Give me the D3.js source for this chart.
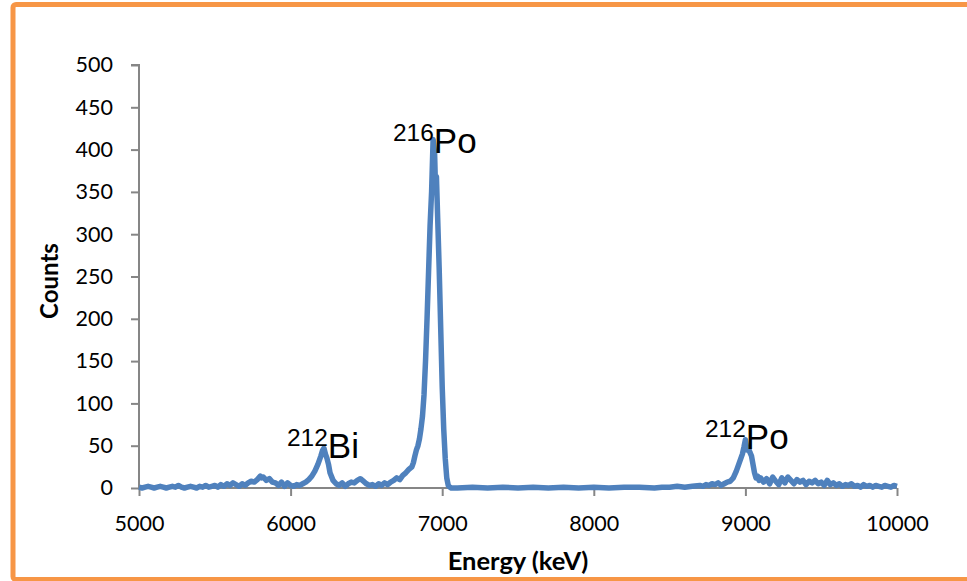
<!DOCTYPE html>
<html>
<head>
<meta charset="utf-8">
<script src="https://cdn.jsdelivr.net/npm/d3@7"></script>
<style>
  body { margin: 0; background: #fff; }
  svg { display: block; }
</style>
</head>
<body>
<svg id="spectrum"></svg>
<script>
// energy (keV) and counts
var energy = [5000,5020,5040,5060,5080,5100,5120,5140,5160,5180,5200,5220,5240,5260,5280,5300,5320,5340,5360,5380,
  5400,5420,5440,5460,5480,5500,5520,5540,5560,5580,5600,5620,5640,5660,5680,5700,5720,5740,5760,5780,
  5800,5810,5820,5840,5860,5880,5900,5920,5940,5960,5980,6000,6020,6040,6060,6080,6100,6120,6140,6160,
  6180,6200,6210,6220,6230,6240,6250,6260,6280,6300,6320,6340,6360,6380,6400,6420,6440,6460,6480,6500,
  6520,6540,6560,6580,6600,6620,6640,6660,6680,6700,6720,6740,6760,6780,6800,6810,6820,6830,6840,6850,
  6860,6870,6880,6890,6900,6910,6920,6930,6940,6950,6955,6962,6970,6980,6990,7000,7010,7020,7030,7040,
  7050,7060,7100,7200,7300,7400,7500,7600,7700,7800,7900,8000,8100,8200,8300,8400,8450,8500,8550,8600,
  8650,8700,8720,8740,8760,8780,8800,8820,8840,8860,8880,8900,8920,8940,8960,8980,8990,9000,9010,9020,
  9030,9040,9050,9060,9070,9080,9090,9100,9120,9140,9160,9180,9200,9220,9240,9260,9280,9300,9320,9340,
  9360,9380,9400,9420,9440,9460,9480,9500,9520,9540,9560,9580,9600,9620,9640,9660,9680,9700,9720,9740,
  9760,9780,9800,9820,9840,9860,9880,9900,9920,9940,9960,9980,10000];
var counts = [1,0,1,2,1,0,1,2,1,0,
  1,2,1,3,1,0,1,2,1,0,
  2,1,3,1,2,3,1,4,2,5,
  3,6,4,2,5,3,6,8,7,10,
  14,12,13,9,11,7,6,3,7,2,
  6,3,2,4,3,5,7,10,14,20,
  28,38,44,47,40,35,28,18,9,5,
  3,6,2,5,7,6,9,11,8,5,
  3,4,2,5,3,6,4,7,9,12,
  10,15,18,22,25,30,38,45,50,58,
  70,85,110,150,200,255,310,350,412,395,
  360,368,320,260,190,120,70,35,12,3,
  1,0,0,1,0,1,0,1,0,1,
  0,1,0,1,1,0,1,1,2,1,
  2,3,2,4,3,5,4,6,3,5,
  7,8,12,20,30,40,48,57,45,47,
  42,38,28,18,12,14,9,12,7,11,
  5,13,8,4,12,6,13,9,5,10,
  7,9,4,8,6,9,5,7,3,9,
  4,6,3,5,2,4,3,5,2,3,
  1,4,2,3,1,3,2,1,3,2,
  1,3,2];

var xTicks = [5000, 6000, 7000, 8000, 9000, 10000];
var yTicks = [0, 50, 100, 150, 200, 250, 300, 350, 400, 450, 500];

// peak labels: isotope mass, element, anchor energy / counts
var peakMass = ["212", "216", "212"];
var peakElem = ["Bi", "Po", "Po"];
var peakE = [5976, 6675, 8733];
var peakC = [35, 396, 46];

var W = 967, H = 581;
var svg = d3.select("svg#spectrum").attr("width", W).attr("height", H);

// orange frame (right side runs off the page)
svg.append("rect")
   .attr("x", 13).attr("y", 4.5)
   .attr("width", W + 20).attr("height", 575)
   .attr("rx", 3)
   .attr("fill", "none")
   .attr("stroke", "#f79646")
   .attr("stroke-width", 5);

var x = d3.scaleLinear().domain([5000, 10000]).range([139, 897]);
var y = d3.scaleLinear().domain([0, 500]).range([488, 65]);

var axisColor = "#868686";
var tickFont = "Lato, 'Open Sans', sans-serif";

var yAxis = svg.append("g")
   .attr("transform", "translate(139,0)")
   .call(d3.axisLeft(y).tickValues(yTicks).tickSize(8).tickPadding(18).tickFormat(d3.format("d")));
var xAxis = svg.append("g")
   .attr("transform", "translate(0,488)")
   .call(d3.axisBottom(x).tickValues(xTicks).tickSize(8).tickPadding(20).tickFormat(d3.format("d")));

[xAxis, yAxis].forEach(function(g) {
  g.select(".domain").attr("stroke", axisColor).attr("stroke-width", 2);
  g.selectAll(".tick line").attr("stroke", axisColor).attr("stroke-width", 2);
  g.selectAll(".tick text")
   .attr("fill", "#000")
   .style("font-family", tickFont)
   .style("font-size", "21.5px");
});
yAxis.select(".domain").attr("d", "M-8," + y(500) + "H0V" + y(0));
xAxis.select(".domain").attr("d", "M" + x(5000) + ",0H" + x(10000));

var line = d3.line()
   .x(function(d, i) { return x(energy[i]); })
   .y(function(d) { return y(d); });

svg.append("path")
   .datum(counts)
   .attr("fill", "none")
   .attr("stroke", "#4f81bd")
   .attr("stroke-width", 5.5)
   .attr("stroke-linejoin", "round")
   .attr("d", line);

// peak labels
peakElem.forEach(function(el, i) {
  var t = svg.append("text")
     .attr("x", x(peakE[i]))
     .attr("y", y(peakC[i]))
     .style("font-family", "'Liberation Sans', Arial, sans-serif")
     .attr("fill", "#000");
  t.append("tspan").attr("dy", -12).style("font-size", "24.5px").text(peakMass[i]);
  t.append("tspan").attr("dy", 12).style("font-size", "35px").text(el);
});

// axis titles
svg.append("text")
   .attr("transform", "translate(58,281) rotate(-90)")
   .attr("text-anchor", "middle")
   .style("font-family", tickFont)
   .style("font-weight", "bold")
   .style("font-size", "24px")
   .text("Counts");

svg.append("text")
   .attr("x", 518).attr("y", 570)
   .attr("text-anchor", "middle")
   .style("font-family", tickFont)
   .style("font-weight", "bold")
   .style("font-size", "25.5px")
   .text("Energy (keV)");
</script>
</body>
</html>
